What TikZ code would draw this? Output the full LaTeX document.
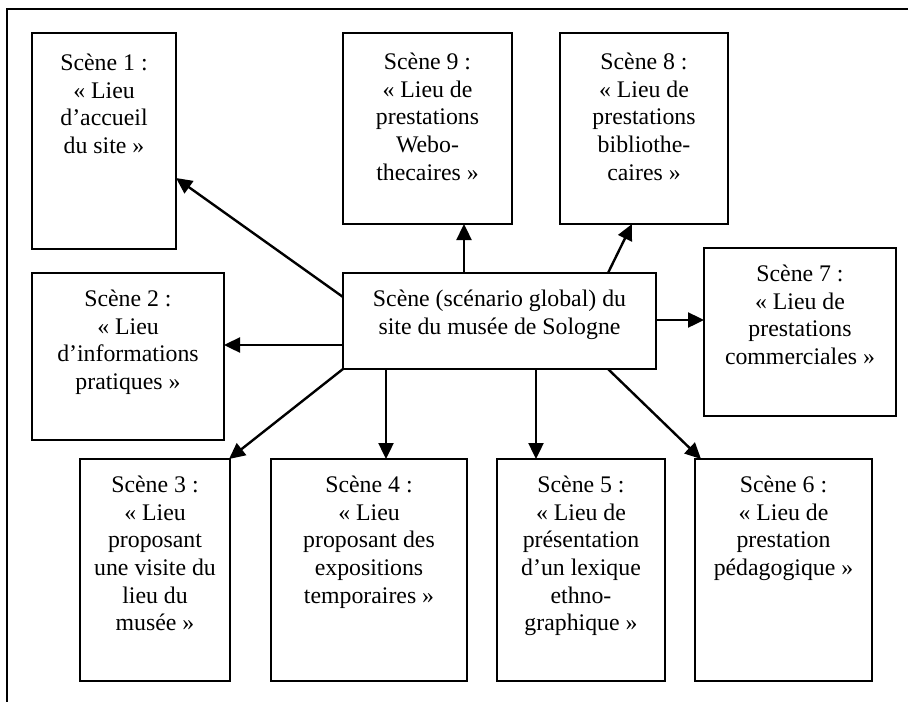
\documentclass[tikz,border=0pt]{standalone}
\usepackage{fontspec}
\setmainfont{Liberation Serif}
\usetikzlibrary{arrows.meta,calc}
\tikzset{
  scenebox/.style={draw, line width=2.6pt, rectangle, inner sep=0pt, outer sep=0pt},
  scenetext/.style={anchor=north, inner sep=0pt, align=center, font=\fontsize{23.8}{27.6}\selectfont},
  arr/.style={line width=2.4pt, -{Triangle[length=16pt,width=15pt]}},
  frame/.style={line width=2pt}
}
\begin{document}
\begin{tikzpicture}[x=1pt,y=-1pt]
\useasboundingbox (0,0) rectangle (908,702);
% outer frame (top and left lines only)
\coordinate (ftr) at (908,9);
\coordinate (ftl) at (7,9);
\coordinate (fbl) at (7,702);
\draw[frame] (ftr) -- (ftl) -- (fbl);

% boxes
\node[scenebox, minimum width=144pt, minimum height=216pt] (b1) at (104,141) {};
\node[scenebox, minimum width=169pt, minimum height=191pt] (b9) at (427.5,128.5) {};
\node[scenebox, minimum width=168pt, minimum height=191pt] (b8) at (644,128.5) {};
\node[scenebox, minimum width=192pt, minimum height=167pt] (b2) at (128,356.5) {};
\node[scenebox, minimum width=313pt, minimum height=96pt] (c) at (499.5,321) {};
\node[scenebox, minimum width=192pt, minimum height=168pt] (b7) at (800,332) {};
\node[scenebox, minimum width=150pt, minimum height=222pt] (b3) at (155,570) {};
\node[scenebox, minimum width=196pt, minimum height=222pt] (b4) at (369,570) {};
\node[scenebox, minimum width=168pt, minimum height=222pt] (b5) at (581,570) {};
\node[scenebox, minimum width=177pt, minimum height=222pt] (b6) at (783.5,570) {};

% texts
\node[scenetext] (t1) at ($(b1.north)+(0,21)$) {Scène 1 :\\« Lieu\\d’accueil\\du site »};
\node[scenetext] (t9) at ($(b9.north)+(0,20)$) {Scène 9 :\\« Lieu de\\prestations\\Webo-\\thecaires »};
\node[scenetext] (t8) at ($(b8.north)+(0,20)$) {Scène 8 :\\« Lieu de\\prestations\\bibliothe-\\caires »};
\node[scenetext] (t2) at ($(b2.north)+(0,17)$) {Scène 2 :\\« Lieu\\d’informations\\pratiques »};
\node[scenetext] (tc) at ($(c.north)+(0,17)$) {Scène (scénario global) du\\site du musée de Sologne};
\node[scenetext] (t7) at ($(b7.north)+(0,17)$) {Scène 7 :\\« Lieu de\\prestations\\commerciales »};
\node[scenetext] (t3) at ($(b3.north)+(0,17)$) {Scène 3 :\\« Lieu\\proposant\\une visite du\\lieu du\\musée »};
\node[scenetext] (t4) at ($(b4.north)+(0,17)$) {Scène 4 :\\« Lieu\\proposant des\\expositions\\temporaires »};
\node[scenetext] (t5) at ($(b5.north)+(0,17)$) {Scène 5 :\\« Lieu de\\présentation\\d’un lexique\\ethno-\\graphique »};
\node[scenetext] (t6) at ($(b6.north)+(0,17)$) {Scène 6 :\\« Lieu de\\prestation\\pédagogique »};

% connectors
\draw[arr] ($(c.north west)+(0,24)$) -- ($(b1.north east)+(0,145)$);
\draw[arr] ($(c.north west)+(0,72)$) -- ($(b2.north east)+(0,72)$);
\draw[arr] (c.south west) -- ($(b3.north east)+(-1,0)$);
\draw[arr] ($(c.south west)+(43,0)$) -- ($(b4.north west)+(115,0)$);
\draw[arr] ($(c.south west)+(193,0)$) -- ($(b5.north west)+(39,0)$);
\draw[arr] ($(c.south west)+(265,0)$) -- ($(b6.north west)+(6,0)$);
\draw[arr] ($(c.north east)+(0,47)$) -- ($(b7.north west)+(0,72)$);
\draw[arr] ($(c.north west)+(265,0)$) -- ($(b8.south west)+(72,0)$);
\draw[arr] ($(c.north west)+(121,0)$) -- ($(b9.south west)+(121,0)$);
\end{tikzpicture}
\end{document}
